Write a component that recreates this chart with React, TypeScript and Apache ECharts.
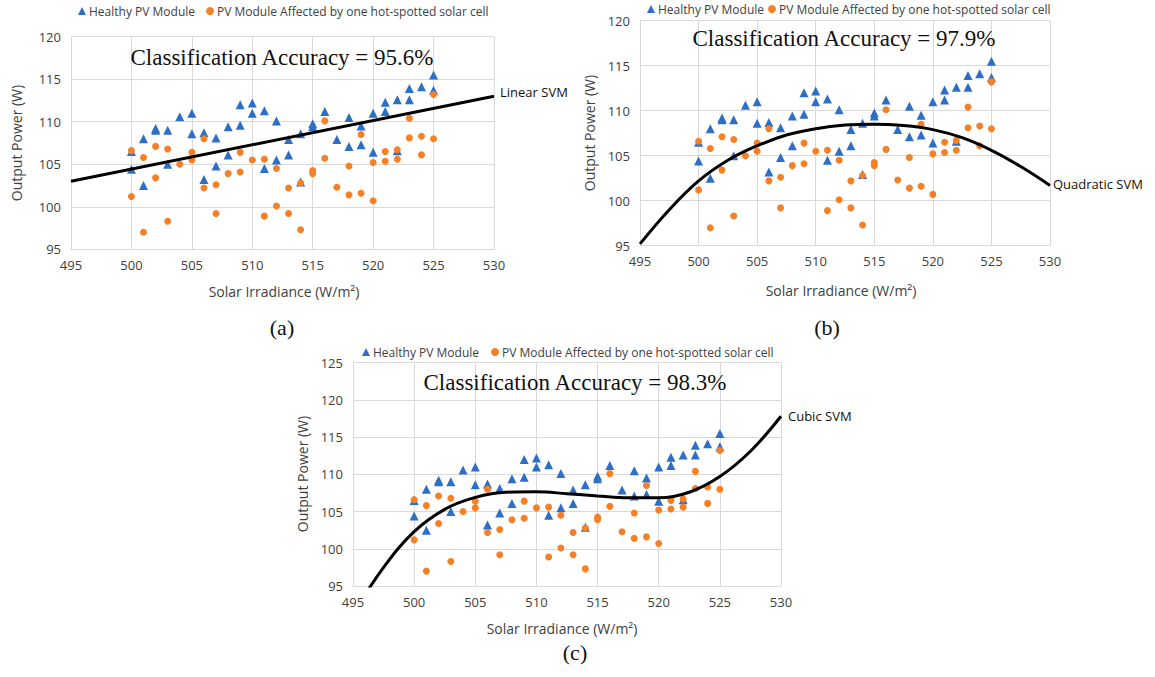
import React, { useEffect, useRef } from "react";
import * as echarts from "echarts";

// Measured points (Solar Irradiance W/m², Output Power W)
const healthyPoints: [number, number][] = [
  [500, 106.5], [500, 104.4], [501, 108.0], [501, 102.5], [502, 109.2], [502, 109.0],
  [503, 109.0], [503, 105.0], [504, 110.6], [505, 111.0], [505, 108.6], [506, 108.7],
  [506, 103.2], [507, 108.1], [507, 104.8], [508, 109.4], [508, 106.1], [509, 112.0],
  [509, 109.6], [510, 112.2], [510, 111.0], [511, 111.3], [511, 104.5], [512, 110.1],
  [512, 105.5], [513, 107.9], [513, 106.1], [514, 108.6], [514, 102.9], [515, 109.75],
  [515, 109.4], [516, 111.2], [517, 107.9], [518, 110.5], [518, 107.1], [519, 109.5],
  [519, 107.3], [520, 111.0], [520, 106.4], [521, 112.3], [521, 111.2], [522, 112.6],
  [522, 106.6], [523, 113.9], [523, 112.6], [524, 114.1], [525, 115.5], [525, 113.7],
];

const affectedPoints: [number, number][] = [
  [500, 106.6], [500, 101.2], [501, 105.8], [501, 97.0], [502, 107.1], [502, 103.4],
  [503, 106.8], [503, 98.3], [504, 105.0], [505, 106.4], [505, 105.5], [506, 108.0],
  [506, 102.2], [507, 102.6], [507, 99.2], [508, 103.9], [509, 106.4], [509, 104.1],
  [510, 105.5], [511, 105.6], [511, 98.9], [512, 104.5], [512, 100.1], [513, 102.2],
  [513, 99.2], [514, 102.8], [514, 97.3], [515, 104.25], [515, 103.9], [516, 110.1],
  [516, 105.7], [517, 102.3], [518, 104.8], [518, 101.4], [519, 108.5], [519, 101.6],
  [520, 105.2], [520, 100.7], [521, 106.5], [521, 105.35], [522, 106.7], [522, 105.6],
  [523, 110.4], [523, 108.1], [524, 108.3], [524, 106.1], [525, 113.2], [525, 108.0],
];

// Decision boundaries
const linearSvm: [number, number][] = [[495, 103.0], [530, 113.0]];
const quadraticSvm: [number, number][] = [
  [495, 95.2], [497.5, 99.0], [500, 102.2], [502.5, 104.5], [505, 106.1], [507.5, 107.3],
  [510, 108.0], [512.5, 108.4], [515, 108.5], [517.5, 108.35], [520, 107.9], [522.5, 107.0],
  [525, 105.6], [527.5, 103.8], [530, 101.7],
];
const cubicSvm: [number, number][] = [
  [495, 91.2], [497.5, 97.5], [500, 102.3], [502.5, 105.3], [505, 106.9], [507.5, 107.6],
  [510, 107.65], [512.5, 107.4], [515, 107.1], [517.5, 106.85], [520, 106.85], [522.5, 107.6],
  [525, 109.7], [527.5, 113.1], [530, 117.8],
];

const accuracyLabels = ["Classification Accuracy = 95.6%", "Classification Accuracy = 97.9%", "Classification Accuracy = 98.3%"];
const svmLabels = ["Linear SVM", "Quadratic SVM", "Cubic SVM"];
const panelCaptions = ["(a)", "(b)", "(c)"];
const yMaxes = [120, 120, 125];
const HEALTHY = "Healthy PV Module";
const AFFECTED = "PV Module Affected by one hot-spotted solar cell";

const BLUE = "#2D6EC6";
const ORANGE = "#F58025";
const GRID = "#d9d9d9";
const TXT = "#404040";
const SANS = "Open Sans";
const SERIF = "Liberation Serif";

const grids = [
  { left: 71, top: 36.7, width: 423, height: 212.6 },
  { left: 640, top: 20.7, width: 410, height: 225 },
  { left: 353, top: 362.7, width: 428, height: 223.3 },
];

export default function App() {
  const ref = useRef<HTMLDivElement>(null);
  useEffect(() => {
    if (!ref.current) return;
    const chart = echarts.init(ref.current, undefined, { renderer: "svg" });
    const curves = [linearSvm, quadraticSvm, cubicSvm];

    const xAxis = grids.map((_, i) => ({
      type: "value", gridIndex: i, min: 495, max: 530, interval: 5,
      axisLine: { show: true, lineStyle: { color: GRID } },
      axisTick: { show: false },
      splitLine: { show: true, lineStyle: { color: GRID } },
      axisLabel: { color: TXT, fontSize: 13, fontFamily: SANS, margin: 9 },
    }));
    const yAxis = grids.map((_, i) => ({
      type: "value", gridIndex: i, min: 95, max: yMaxes[i], interval: 5,
      axisLine: { show: true, lineStyle: { color: GRID } },
      axisTick: { show: false },
      splitLine: { show: true, lineStyle: { color: GRID } },
      axisLabel: { color: TXT, fontSize: 13, fontFamily: SANS, margin: 10 },
    }));

    const series: any[] = [];
    grids.forEach((_, i) => {
      series.push({
        name: HEALTHY, type: "scatter", xAxisIndex: i, yAxisIndex: i,
        symbol: "triangle", symbolSize: 9, itemStyle: { color: BLUE, opacity: 1 }, data: healthyPoints, z: 2,
      });
      series.push({
        name: AFFECTED, type: "scatter", xAxisIndex: i, yAxisIndex: i,
        symbol: "circle", symbolSize: 7, itemStyle: { color: ORANGE, opacity: 1 }, data: affectedPoints, z: 3,
      });
      series.push({
        name: svmLabels[i], type: "line", xAxisIndex: i, yAxisIndex: i,
        smooth: 0.4, showSymbol: false, symbol: "none", clip: true,
        lineStyle: { color: "#000", width: 3 }, data: curves[i], z: 4,
      });
    });

    // legend icon centres (x, y) for each panel
    const legendPos = [
      { h: 82, a: 210, y: 11 },
      { h: 651, a: 772, y: 9 },
      { h: 366, a: 495, y: 352 },
    ];
    const legend: any[] = [];
    legendPos.forEach((p) => {
      [[HEALTHY, p.h], [AFFECTED, p.a]].forEach(([name, cx]) => {
        legend.push({
          data: [name], left: (cx as number) - 4, top: p.y - 8, padding: 0,
          itemWidth: 8, itemHeight: 8, itemGap: 0, selectedMode: false,
          textStyle: { color: TXT, fontSize: 12, fontFamily: SANS, padding: [0, 0, 0, -2], lineHeight: 16 },
        });
      });
    });

    const titlePos = [
      { x: 282, y: 57 }, { x: 844, y: 38 }, { x: 575, y: 382 },
    ];
    const svmPos = [
      { x: 500, y: 92 }, { x: 1053, y: 184 }, { x: 788, y: 416 },
    ];
    const yTitlePos = [
      { x: 16, y: 143 }, { x: 589, y: 133 }, { x: 302, y: 474 },
    ];
    const xTitlePos = [
      { x: 284, y: 291 }, { x: 841, y: 290 }, { x: 562, y: 628 },
    ];
    const capPos = [
      { x: 282, y: 327 }, { x: 827, y: 327 }, { x: 575, y: 652 },
    ];

    const graphic: any[] = [];
    for (let i = 0; i < 3; i++) {
      graphic.push({
        type: "text", x: titlePos[i].x, y: titlePos[i].y, z: 10,
        style: { text: accuracyLabels[i], fill: "#111", font: `23px "${SERIF}"`, textAlign: "center", textVerticalAlign: "middle" },
      });
      graphic.push({
        type: "text", x: svmPos[i].x, y: svmPos[i].y, z: 10,
        style: { text: svmLabels[i], fill: "#111", font: `13px "${SANS}"`, textAlign: "left", textVerticalAlign: "middle" },
      });
      graphic.push({
        type: "text", x: yTitlePos[i].x, y: yTitlePos[i].y, rotation: Math.PI / 2, z: 10,
        style: { text: "Output Power (W)", fill: TXT, font: `14px "${SANS}"`, textAlign: "center", textVerticalAlign: "middle" },
      });
      graphic.push({
        type: "text", x: xTitlePos[i].x, y: xTitlePos[i].y, z: 10,
        style: { text: "Solar Irradiance (W/m²)", fill: TXT, font: `14px "${SANS}"`, textAlign: "center", textVerticalAlign: "middle" },
      });
      graphic.push({
        type: "text", x: capPos[i].x, y: capPos[i].y, z: 10,
        style: { text: panelCaptions[i], fill: "#111", font: `22px "${SERIF}"`, textAlign: "center", textVerticalAlign: "middle" },
      });
    }

    chart.setOption({
      animation: false,
      backgroundColor: "#fff",
      grid: grids.map((g) => ({ ...g, containLabel: false })),
      xAxis, yAxis, series, legend, graphic,
    });
    return () => chart.dispose();
  }, []);
  return <div ref={ref} style={{ position: "fixed", left: 0, top: 0, width: 1155, height: 677 }} />;
}
